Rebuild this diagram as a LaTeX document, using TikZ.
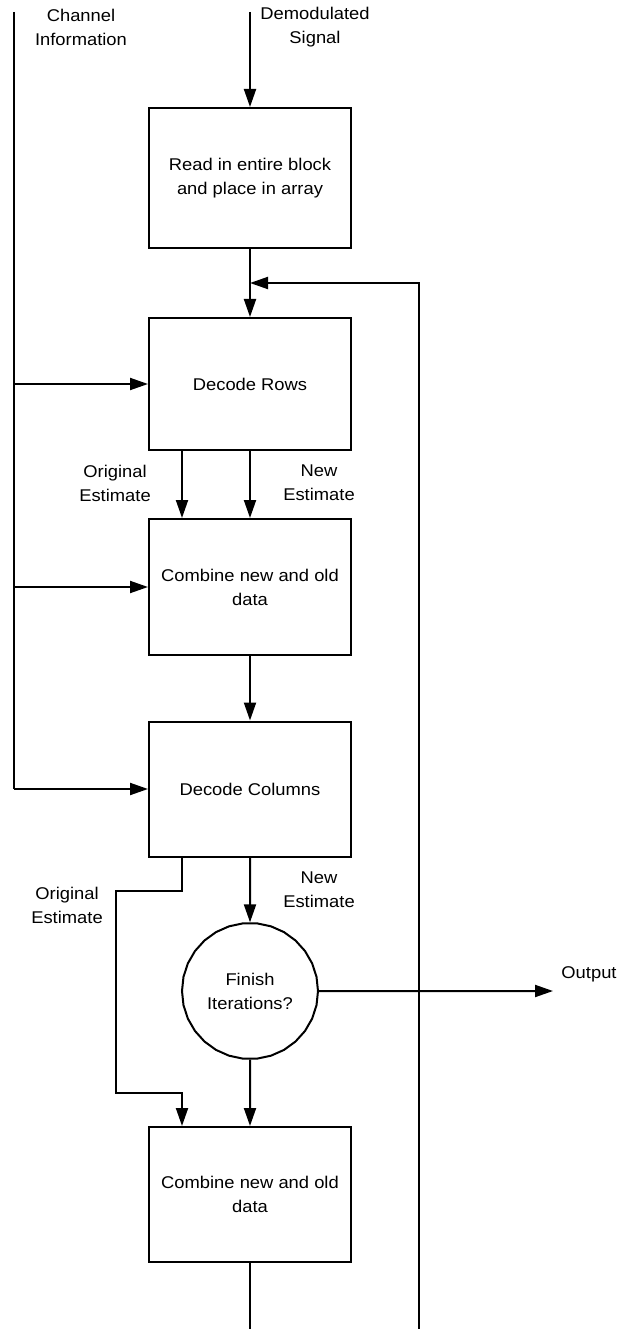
\documentclass[tikz,border=0pt]{standalone}
\usepackage{fontspec}
\setmainfont{Liberation Sans}[FakeStretch=1.08]
\usetikzlibrary{arrows.meta,shapes.geometric}
\begin{document}
\begin{tikzpicture}[x=1pt,y=-1pt,
  line width=2pt,
  every node/.style={font=\fontsize{17}{24}\selectfont, align=center, inner sep=0pt},
  flowbox/.style={draw, rectangle, minimum width=202pt},
  decision/.style={draw, regular polygon, regular polygon sides=30, minimum size=136pt},
  arr/.style={-{Triangle[length=18pt,width=12pt]}}
]
\useasboundingbox (0,0) rectangle (618,1329);

% process boxes
\node[flowbox, minimum height=140pt] (read) at (250,178) {Read in entire block\\and place in array};
\node[flowbox, minimum height=132pt] (rows) at (250,384) {Decode Rows};
\node[flowbox, minimum height=136pt] (comb1) at (250,587) {Combine new and old\\data};
\node[flowbox, minimum height=135pt] (cols) at (250,789) {Decode Columns};
\node[decision] (finish) at (250,991) {Finish\\Iterations?};
\node[flowbox, minimum height=135pt] (comb2) at (250,1194.5) {Combine new and old\\data};

% free ends and bends
\coordinate (chTop) at (14,12);
\coordinate (chBot) at (chTop |- cols.west);
\coordinate (demod) at (250,12);
\coordinate (fbIn) at (250,283);
\coordinate (fbBot) at (419,1329);
\coordinate (outEnd) at (553,991);
\coordinate (endDown) at (250,1329);
\coordinate (origA) at (182,891);
\coordinate (origB) at (116,891);
\coordinate (origC) at (116,1093);
\coordinate (origD) at (182,1093);

% texts
\node (chLbl) at (81,27) {Channel\\Information};
\node (dmLbl) at (315,27) {Demodulated\\Signal};
\node (orig1) at (115,483) {Original\\Estimate};
\node (new1) at (319,483) {New\\Estimate};
\node (orig2) at (67,905) {Original\\Estimate};
\node (new2) at (319,890) {New\\Estimate};
\node (outLbl) at (589,974) {Output};

% channel information feed
\draw (chTop) -- (chBot);
\draw[arr] (chTop |- rows.west) -- (rows.west);
\draw[arr] (chTop |- comb1.west) -- (comb1.west);
\draw[arr] (chBot) -- (cols.west);

% main chain
\draw[arr] (demod) -- (read.north);
\draw[arr] (read.south) -- (rows.north);
\draw[arr] (fbBot) |- (fbIn);
\draw[arr] ([xshift=-68pt]rows.south) -- ([xshift=-68pt]comb1.north);
\draw[arr] (rows.south) -- (comb1.north);
\draw[arr] (comb1.south) -- (cols.north);
\draw[arr] (cols.south) -- (finish.north);
\draw[arr] ([xshift=-68pt]cols.south) -- (origA) -- (origB) -- (origC) -- (origD) -- ([xshift=-68pt]comb2.north);
\draw[arr] (finish.south) -- (comb2.north);
\draw[arr] (finish.east) -- (outEnd);
\draw (comb2.south) -- (endDown);
\end{tikzpicture}
\end{document}
